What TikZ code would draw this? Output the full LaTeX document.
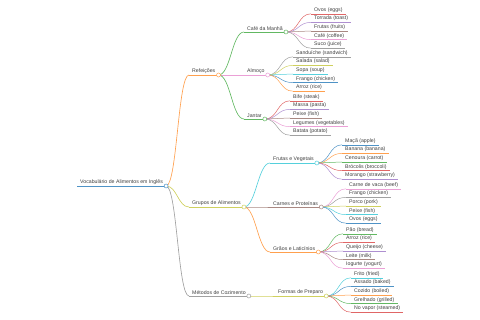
\documentclass[tikz,border=0pt]{standalone}
\usepackage{fontspec}
\setmainfont{Liberation Sans}
\usetikzlibrary{positioning}
\usepackage{xcolor}

% d3 category10, a little washed out
\definecolor{cBlue}{HTML}{4F93C6}
\definecolor{cOrange}{HTML}{FFA04E}
\definecolor{cGreen}{HTML}{62B862}
\definecolor{cRed}{HTML}{E06666}
\definecolor{cPurple}{HTML}{AE8FD0}
\definecolor{cBrown}{HTML}{A98882}
\definecolor{cPink}{HTML}{EBA0D6}
\definecolor{cGray}{HTML}{A0A0A0}
\definecolor{cOlive}{HTML}{CFD05E}
\definecolor{cCyan}{HTML}{55D0DC}

\begin{document}
\begin{tikzpicture}[
  x=1pt, y=-1pt,
  font=\fontsize{5.2}{6}\selectfont,
  topic/.style={anchor=south west, inner xsep=3pt, inner ysep=1.2pt, text=black!75},
  trunk/.style={line width=0.9pt},
  branch/.style={line width=0.65pt},
  twig/.style={line width=0.5pt},
  knob/.style={circle, draw, fill=white, inner sep=0pt, minimum size=4pt, line width=0.5pt},
]
\useasboundingbox (0,0) rectangle (480,320);

% ---- spacing of the leaves -------------------------------------------------
\def\dy{8.6}

% ---- Root ------------------------------------------------------------------
\node[topic] (root) at (77,186) {Vocabulário de Alimentos em Inglês};
\draw[cBlue, trunk] (root.south west) -- (root.south east);

% ---- Level 1 ---------------------------------------------------------------
\node[topic] (meals) at (189,75)  {Refeições};
\node[topic] (groups) at (189,207) {Grupos de Alimentos};
\node[topic] (cook) at (189,296)   {Métodos de Cozimento};

\foreach \n/\col in {meals/cOrange, groups/cOlive, cook/cGray}{
  \draw[\col, branch] (\n.south west) -- (\n.south east);
  \draw[\col, branch] (root.south east) .. controls +(11,0) and +(-11,0) .. (\n.south west);
}

% ---- Level 2 ---------------------------------------------------------------
\node[topic] (breakfast) at (244,32)  {Café da Manhã};
\node[topic] (lunch)     at (244,75)  {Almoço};
\node[topic] (dinner)    at (244,119) {Jantar};
\node[topic] (fruitveg)  at (270,163) {Frutas e Vegetais};
\node[topic] (meat)      at (270,207) {Carnes e Proteínas};
\node[topic] (grain)     at (270,252) {Grãos e Laticínios};
\node[topic] (prep)      at (275,296) {Formas de Preparo};

\foreach \n/\p/\col in {breakfast/meals/cGreen, lunch/meals/cPink, dinner/meals/cGreen,
                        fruitveg/groups/cCyan, meat/groups/cBrown, grain/groups/cOrange,
                        prep/cook/cOlive}{
  \draw[\col, branch] (\n.south west) -- (\n.south east);
  \draw[\col, branch] (\p.south east) .. controls +(12,0) and +(-12,0) .. (\n.south west);
}

% ---- Leaves ----------------------------------------------------------------
% Café da Manhã
\foreach \txt/\col [count=\i] in {Ovos (eggs)/cRed, Torrada (toast)/cPurple,
    Frutas (fruits)/cBrown, Café (coffee)/cPink, Suco (juice)/cGray}{
  \node[topic] (breakfast-\i) at (311,{31+(\i-3)*\dy}) {\txt};
  \draw[\col, twig] (breakfast-\i.south west) -- (breakfast-\i.south east);
  \draw[\col, twig] (breakfast.south east) .. controls +(13,0) and +(-13,0) .. (breakfast-\i.south west);
}

% Almoço
\foreach \txt/\col [count=\i] in {Sanduíche (sandwich)/cGray, Salada (salad)/cOlive,
    Sopa (soup)/cCyan, Frango (chicken)/cBlue, Arroz (rice)/cOrange}{
  \node[topic] (lunch-\i) at (293,{74+(\i-3)*\dy}) {\txt};
  \draw[\col, twig] (lunch-\i.south west) -- (lunch-\i.south east);
  \draw[\col, twig] (lunch.south east) .. controls +(13,0) and +(-13,0) .. (lunch-\i.south west);
}

% Jantar
\foreach \txt/\col [count=\i] in {Bife (steak)/cRed, Massa (pasta)/cPurple,
    Peixe (fish)/cBrown, Legumes (vegetables)/cPink, Batata (potato)/cGray}{
  \node[topic] (dinner-\i) at (290,{118+(\i-3)*\dy}) {\txt};
  \draw[\col, twig] (dinner-\i.south west) -- (dinner-\i.south east);
  \draw[\col, twig] (dinner.south east) .. controls +(13,0) and +(-13,0) .. (dinner-\i.south west);
}

% Frutas e Vegetais
\foreach \txt/\col [count=\i] in {Maçã (apple)/cBlue, Banana (banana)/cOrange,
    Cenoura (carrot)/cGreen, Brócolis (broccoli)/cRed, Morango (strawberry)/cPurple}{
  \node[topic] (fruitveg-\i) at (342,{162+(\i-3)*\dy}) {\txt};
  \draw[\col, twig] (fruitveg-\i.south west) -- (fruitveg-\i.south east);
  \draw[\col, twig] (fruitveg.south east) .. controls +(13,0) and +(-13,0) .. (fruitveg-\i.south west);
}

% Carnes e Proteínas
\foreach \txt/\col [count=\i] in {Carne de vaca (beef)/cPink, Frango (chicken)/cGray,
    Porco (pork)/cOlive, Peixe (fish)/cCyan, Ovos (eggs)/cBlue}{
  \node[topic] (meat-\i) at (346,{206+(\i-3)*\dy}) {\txt};
  \draw[\col, twig] (meat-\i.south west) -- (meat-\i.south east);
  \draw[\col, twig] (meat.south east) .. controls +(13,0) and +(-13,0) .. (meat-\i.south west);
}

% Grãos e Laticínios
\foreach \txt/\col [count=\i] in {Pão (bread)/cGreen, Arroz (rice)/cRed,
    Queijo (cheese)/cPurple, Leite (milk)/cBrown, Iogurte (yogurt)/cPink}{
  \node[topic] (grain-\i) at (343,{251+(\i-3)*\dy}) {\txt};
  \draw[\col, twig] (grain-\i.south west) -- (grain-\i.south east);
  \draw[\col, twig] (grain.south east) .. controls +(13,0) and +(-13,0) .. (grain-\i.south west);
}

% Formas de Preparo
\foreach \txt/\col [count=\i] in {Frito (fried)/cCyan, Assado (baked)/cBlue,
    Cozido (boiled)/cOrange, Grelhado (grilled)/cGreen, No vapor (steamed)/cRed}{
  \node[topic] (prep-\i) at (351,{295+(\i-3)*\dy}) {\txt};
  \draw[\col, twig] (prep-\i.south west) -- (prep-\i.south east);
  \draw[\col, twig] (prep.south east) .. controls +(13,0) and +(-13,0) .. (prep-\i.south west);
}

% ---- Knobs on top of the links ---------------------------------------------
\foreach \n/\col in {root/cBlue, meals/cOrange, groups/cOlive, cook/cGray,
                     breakfast/cGreen, lunch/cPink, dinner/cGreen, fruitveg/cCyan,
                     meat/cBrown, grain/cOrange, prep/cOlive}{
  \node[knob, draw=\col] (\n-knob) at (\n.south east) {};
}

\end{tikzpicture}
\end{document}
